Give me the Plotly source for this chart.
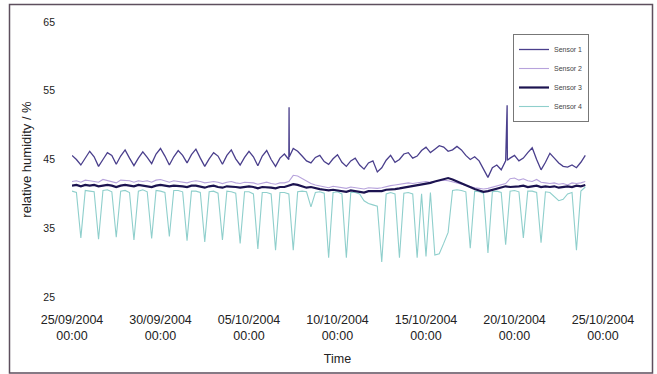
import pandas as pd
import plotly.graph_objects as go

# ---- data (6-hourly samples, 25/09/2004 00:00 .. 24/10/2004 00:00) ----
start_time = "2004-09-25 00:00"
n_samples = 117

sensor1 = [
    45.6, 45.0, 44.2, 45.3,  46.2, 45.4, 44.0, 45.0,  46.0, 45.6, 44.3, 45.5,
    46.4, 45.2, 44.1, 45.2,  46.1, 45.3, 44.4, 45.8,  46.6, 45.5, 44.2, 45.4,
    46.3, 45.6, 44.5, 45.7,  46.5, 45.2, 44.0, 45.1,  46.0, 45.5, 44.3, 45.6,
    46.4, 45.1, 44.2, 45.3,  46.2, 45.4, 44.1, 45.5,  46.3, 45.0, 44.0, 45.2,
    45.8, 45.0, 46.6, 46.2,  45.5, 44.8, 44.5, 45.3,  45.6, 44.7, 44.3, 45.1,
    45.7, 44.6, 44.0, 44.8,  45.2, 44.2, 43.6, 44.5,  44.8, 43.2, 43.8, 44.9,
    45.6, 44.6, 45.0, 45.8,  46.0, 45.2, 45.5, 46.3,  46.8, 46.0, 46.5, 47.0,
    46.8, 46.2, 46.4, 46.9,  46.4, 45.6, 45.0, 45.4,  44.8, 43.6, 42.4, 43.8,
    44.2, 43.5, 44.8, 45.2,  45.6, 44.8, 45.2, 46.0,  46.7, 45.0, 43.5, 44.6,
    45.9, 45.2, 44.5, 44.0,  43.9, 44.2, 43.8, 44.6,  45.6,
]
# short-lived spikes of sensor 1
spike_times = ["2004-10-07 06:20", "2004-10-07 06:40",
               "2004-10-19 14:00", "2004-10-19 14:20"]
spike_values = [52.6, 45.4, 52.9, 44.9]

sensor2 = [
    41.8, 41.9, 41.7, 42.0,  41.9, 41.8, 41.7, 42.1,  41.9, 41.8, 41.6, 42.0,
    42.0, 41.9, 41.7, 41.9,  41.8, 41.9, 41.7, 42.0,  42.1, 41.9, 41.7, 41.9,
    41.8, 41.7, 41.6, 41.8,  41.9, 41.8, 41.6, 41.7,  41.8, 41.7, 41.5, 41.7,
    41.8, 41.6, 41.5, 41.7,  41.7, 41.6, 41.4, 41.6,  41.7, 41.5, 41.4, 41.6,
    41.6, 41.8, 42.7, 42.6,  42.2, 41.8, 41.5, 41.3,  41.2, 41.0, 40.9, 41.1,
    41.0, 40.9, 40.8, 41.0,  40.9, 40.8, 40.7, 40.9,  40.8, 40.8, 40.9, 41.1,
    41.2, 41.3, 41.4, 41.5,  41.6, 41.5, 41.6, 41.7,  41.8, 41.7, 41.8, 41.9,
    42.0, 41.9, 41.8, 41.6,  41.4, 41.2, 41.0, 40.9,  40.8, 40.7, 40.8, 41.0,
    41.2, 41.4, 41.5, 42.2,  42.3, 42.0, 42.2, 41.9,  41.8, 42.1, 41.7, 41.6,
    41.5, 41.6, 41.4, 41.5,  41.3, 41.6, 41.5, 41.6,  41.8,
]

sensor3 = [
    41.2, 41.3, 41.1, 41.3,  41.2, 41.3, 41.1, 41.2,  41.3, 41.2, 41.0, 41.2,
    41.3, 41.2, 41.1, 41.3,  41.2, 41.1, 41.0, 41.2,  41.3, 41.2, 41.1, 41.2,
    41.2, 41.1, 41.0, 41.2,  41.2, 41.1, 40.9, 41.1,  41.2, 41.0, 40.9, 41.1,
    41.1, 41.0, 40.9, 41.0,  41.1, 41.0, 40.8, 41.0,  41.0, 40.9, 40.8, 41.0,
    41.0, 41.2, 41.4, 41.3,  41.1, 40.9, 41.0, 40.8,  40.7, 40.6, 40.5, 40.6,
    40.5, 40.4, 40.3, 40.5,  40.4, 40.3, 40.2, 40.4,  40.4, 40.3, 40.4, 40.6,
    40.6, 40.7, 40.8, 40.9,  41.0, 41.1, 41.2, 41.3,  41.4, 41.6, 41.8, 42.0,
    42.2, 42.3, 42.1, 41.8,  41.5, 41.2, 40.9, 40.7,  40.5, 40.3, 40.4, 40.6,
    40.8, 41.0, 41.1, 41.0,  41.0, 41.1, 41.2, 41.0,  41.1, 41.2, 41.0, 41.1,
    41.0, 41.1, 40.9, 41.0,  41.1, 41.0, 41.2, 41.1,  41.3,
]

sensor4 = [
    40.4, 40.2, 33.6, 40.5,  40.4, 40.3, 33.4, 40.5,  40.6, 40.3, 33.7, 40.4,
    40.5, 40.2, 33.3, 40.4,  40.6, 40.3, 33.5, 40.5,  40.4, 40.2, 33.8, 40.5,
    40.5, 40.3, 33.2, 40.4,  40.4, 40.2, 33.0, 40.3,  40.4, 40.1, 33.3, 40.4,
    40.3, 40.1, 32.8, 40.3,  40.3, 40.0, 32.0, 40.2,  40.2, 40.0, 31.8, 40.2,
    40.2, 40.0, 31.8, 40.3,  40.4, 40.3, 38.1, 40.2,  40.3, 40.1, 30.7, 40.2,
    40.3, 40.0, 30.7, 40.2,  40.2, 40.0, 39.0, 38.6,  38.4, 38.2, 30.1, 40.0,
    40.2, 40.0, 30.7, 40.1,  40.2, 40.0, 30.7, 40.0,  30.9, 40.2, 31.1, 31.3,
    32.8, 34.4, 40.5, 40.6,  40.5, 40.3, 32.1, 40.4,  40.3, 40.1, 31.4, 40.3,
    40.4, 40.2, 32.6, 40.4,  40.5, 40.3, 33.6, 40.4,  40.4, 40.2, 32.9, 40.3,
    40.2, 39.6, 39.0, 39.2,  40.0, 40.2, 31.8, 40.4,  41.0,
]

series_names = ["Sensor 1", "Sensor 2", "Sensor 3", "Sensor 4"]
series_colors = ["#4a3f8c", "#b7a3dc", "#1c1350", "#8fcfcc"]
series_widths = [1.3, 1.1, 2.2, 1.1]

y_ticks = [25, 35, 45, 55, 65]
x_tick_dates = ["2004-09-25", "2004-09-30", "2004-10-05", "2004-10-10",
                "2004-10-15", "2004-10-20", "2004-10-25"]
x_tick_labels = ["25/09/2004<br>00:00", "30/09/2004<br>00:00", "05/10/2004<br>00:00",
                 "10/10/2004<br>00:00", "15/10/2004<br>00:00", "20/10/2004<br>00:00",
                 "25/10/2004<br>00:00"]

# ---- build ----
times = pd.date_range(start_time, periods=n_samples, freq="6h")
s1 = pd.concat([pd.Series(sensor1, index=times),
                pd.Series(spike_values, index=pd.to_datetime(spike_times))]).sort_index()

fig = go.Figure()
traces = [(s1.index, s1.values), (times, sensor2), (times, sensor3), (times, sensor4)]
# draw order: cyan below, then the others
order = [3, 1, 2, 0]
for i in order:
    x, y = traces[i]
    fig.add_trace(go.Scatter(
        x=x, y=y, mode="lines", name=series_names[i],
        line=dict(color=series_colors[i], width=series_widths[i]),
        legendrank=i + 1,
    ))

L, R, T, B = 72, 54, 22, 77
W, H = 657, 374
pw, ph = W - L - R, H - T - B

fig.update_layout(
    width=W, height=H,
    margin=dict(l=L, r=R, t=T, b=B, autoexpand=False),
    paper_bgcolor="white", plot_bgcolor="white",
    font=dict(family="Liberation Sans, Arial, sans-serif", color="#222222"),
    showlegend=True,
    legend=dict(
        x=(513 - L) / pw, y=(H - B - 34) / ph, xanchor="left", yanchor="top",
        bgcolor="rgba(255,255,255,0)", bordercolor="#777777", borderwidth=1,
        font=dict(size=7, color="#444444"), tracegroupgap=0,
    ),
    shapes=[dict(
        type="rect", xref="paper", yref="paper",
        x0=(9.5 - L) / pw, x1=(652.5 - L) / pw,
        y0=(H - B - 373) / ph, y1=(H - B - 4.5) / ph,
        line=dict(color="#5e4f5e", width=1.5), fillcolor="rgba(0,0,0,0)",
        layer="below",
    )],
)

fig.update_xaxes(
    type="date", range=["2004-09-25", "2004-10-25"],
    tickmode="array", tickvals=x_tick_dates, ticktext=x_tick_labels,
    showgrid=False, showline=False, zeroline=False, ticks="",
    ticklabelstandoff=13,
    tickfont=dict(size=12.5),
    title=dict(text="Time", font=dict(size=12.5), standoff=12),
)
fig.update_yaxes(
    range=[25, 65], tickmode="array", tickvals=y_ticks,
    showgrid=False, showline=False, zeroline=False, ticks="",
    ticklabelstandoff=16,
    tickfont=dict(size=10.5),
    title=dict(text="relative humidity / %", font=dict(size=13), standoff=8),
)

fig.write_html("out.html")
